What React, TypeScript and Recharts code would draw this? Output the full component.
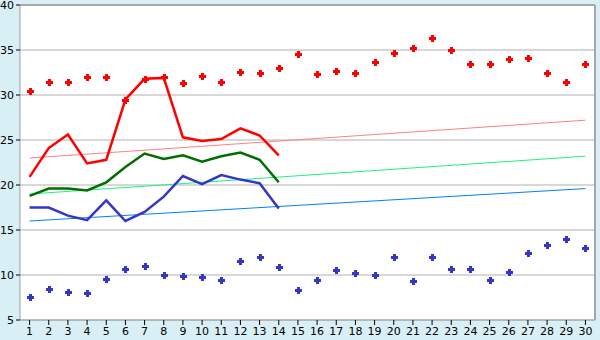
import { CartesianGrid, LineChart, Line, ReferenceLine, XAxis, YAxis } from "recharts";

// ── Data ─────────────────────────────────────────────────────────────────────
const days = Array.from({ length: 30 }, (_, i) => i + 1);
const yTicks = [5, 10, 15, 20, 25, 30, 35, 40];

const maxPoints = [
  30.4, 31.4, 31.5, 32.0, 32.0, 29.5, 31.8, 32.0, 31.3, 32.1,
  31.5, 32.6, 32.5, 33.0, 34.6, 32.3, 32.7, 32.4, 33.7, 34.7,
  35.2, 36.3, 35.0, 33.4, 33.4, 34.0, 34.1, 32.4, 31.5, 33.5,
];
const minPoints = [
  7.6, 8.4, 8.1, 8.0, 9.6, 10.7, 11.0, 10.0, 9.9, 9.8,
  9.5, 11.6, 12.0, 10.9, 8.3, 9.4, 10.6, 10.2, 10.0, 12.0,
  9.3, 12.0, 10.7, 10.7, 9.4, 10.3, 12.4, 13.3, 14.0, 13.0,
];
const highLine = [20.9, 24.1, 25.6, 22.4, 22.8, 29.5, 31.8, 31.9, 25.3, 24.9, 25.1, 26.3, 25.5, 23.3];
const meanLine = [18.8, 19.6, 19.6, 19.4, 20.3, 22.0, 23.5, 22.9, 23.3, 22.6, 23.2, 23.6, 22.8, 20.3];
const lowLine = [17.5, 17.5, 16.6, 16.1, 18.3, 16.0, 17.0, 18.7, 21.0, 20.1, 21.1, 20.6, 20.2, 17.4];

// trend lines: values at day 1 and day 30
const trendDays = [1, 30];
const highTrend = [23.0, 27.2];
const meanTrend = [19.0, 23.2];
const lowTrend = [16.0, 19.6];

const pointRows = days.map((d, i) => ({ day: d, max: maxPoints[i], min: minPoints[i] }));
const lineRows = highLine.map((v, i) => ({ day: days[i], high: v, mean: meanLine[i], low: lowLine[i] }));
const trendRows = trendDays.map((d, i) => ({ day: d, high: highTrend[i], mean: meanTrend[i], low: lowTrend[i] }));

// small pixel plus-shaped marker, like the original
const Marker = (color: string) => (props: any) => {
  const { cx, cy, index } = props;
  if (cx == null || cy == null) return <g key={index} />;
  const x = Math.round(cx), y = Math.round(cy);
  return (
    <g key={index} fill={color} shapeRendering="crispEdges">
      <rect x={x - 1} y={y - 3} width={3} height={7} />
      <rect x={x - 3} y={y - 1} width={7} height={3} />
    </g>
  );
};

const tickStyle = { fill: "#000", fontSize: 11, fontFamily: "DejaVu Sans" };

export default function App() {
  return (
    <div style={{ position: "fixed", left: 0, top: 0, width: 600, height: 340, background: "#d9eff6" }}>
      <LineChart width={600} height={340} margin={{ top: 5, right: 5, bottom: 0, left: 0 }}>
        <CartesianGrid vertical={false} stroke="#b0b0b0" fill="#ffffff" />
        <XAxis
          type="number"
          dataKey="day"
          domain={[0.5, 30.5]}
          ticks={days}
          interval={0}
          allowDuplicatedCategory={false}
          stroke="#a0a0a0"
          tickLine={{ stroke: "#000" }}
          tickSize={5}
          tick={tickStyle}
          height={20}
        />
        <YAxis
          type="number"
          domain={[5, 40]}
          ticks={yTicks}
          interval={0}
          width={20}
          stroke="#a0a0a0"
          tickLine={{ stroke: "#000" }}
          tickSize={4}
          tickMargin={2}
          tick={tickStyle}
        />
        <ReferenceLine x={30.5} stroke="#a8a8a8" strokeWidth={2} />
        <ReferenceLine y={40} stroke="#a8a8a8" strokeWidth={2} />

        <Line data={trendRows} dataKey="high" stroke="#ff8080" strokeWidth={1} dot={false} isAnimationActive={false} />
        <Line data={trendRows} dataKey="mean" stroke="#20f080" strokeWidth={1} dot={false} isAnimationActive={false} />
        <Line data={trendRows} dataKey="low" stroke="#0080ff" strokeWidth={1} dot={false} isAnimationActive={false} />

        <Line data={lineRows} dataKey="high" stroke="#ff0000" strokeWidth={2.5} dot={false} isAnimationActive={false} />
        <Line data={lineRows} dataKey="mean" stroke="#006e00" strokeWidth={2.5} dot={false} isAnimationActive={false} />
        <Line data={lineRows} dataKey="low" stroke="#3535c8" strokeWidth={2.5} dot={false} isAnimationActive={false} />

        <Line data={pointRows} dataKey="max" stroke="none" dot={Marker("#ff0000")} activeDot={false} isAnimationActive={false} />
        <Line data={pointRows} dataKey="min" stroke="none" dot={Marker("#3535c8")} activeDot={false} isAnimationActive={false} />
      </LineChart>
    </div>
  );
}
